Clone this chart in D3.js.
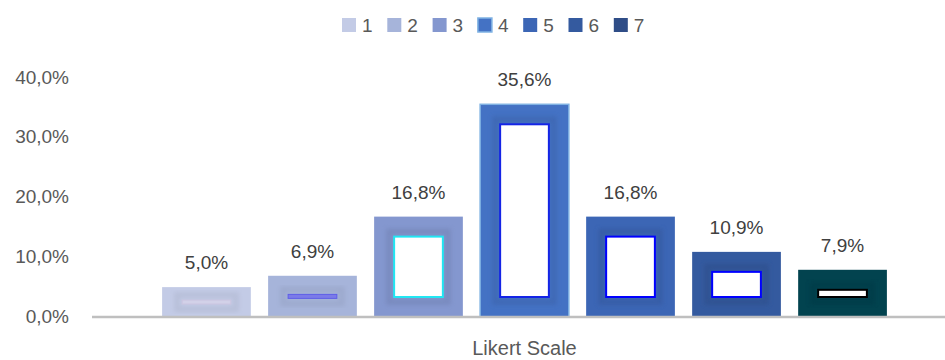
<!DOCTYPE html>
<html>
<head>
<meta charset="utf-8">
<script src="https://cdn.jsdelivr.net/npm/d3@7"></script>
<style>
  html, body { margin: 0; padding: 0; background: #ffffff; }
  svg { display: block; font-family: "Liberation Sans", Arial, sans-serif; }
</style>
</head>
<body>
<svg id="chart" width="945" height="360"></svg>
<script>
// Response shares per Likert point (percent)
const categories = ["Likert Scale"];
const series = ["1", "2", "3", "4", "5", "6", "7"];
const values = [5.0, 6.9, 16.8, 35.6, 16.8, 10.9, 7.9];
const yTicks = [0, 10, 20, 30, 40];

// Fill of each bar, legend swatch colours and the inner frame stroke
const barColors = ["#c3cbe6", "#a6b4da", "#8497cf", "#4472c4", "#3c66b5", "#345a9f", "#02434f"];
const legendColors = ["#c3cbe6", "#a6b4da", "#8497cf", "#4472c4", "#3c66b5", "#345a9f", "#2f4d87"];
const innerStroke = ["#cfc3de", "#5e5ee8", "#22e6f2", "#1424e6", "#0000ff", "#0000ff", "#000000"];

const fmt = v => d3.format(".1f")(v).replace(".", ",") + "%";

const svg = d3.select("#chart");
const plot = { left: 92, right: 957, top: 78, bottom: 317 };

const y = d3.scaleLinear().domain([0, 40]).range([plot.bottom, plot.top]);
const x0 = d3.scaleBand().domain(categories).range([plot.left, plot.right])
  .paddingInner(0.0765).paddingOuter(0.0765);
const x1 = d3.scaleBand().domain(series).range([0, x0.bandwidth()])
  .paddingInner(0.163).paddingOuter(0.0815);

const defs = svg.append("defs");
defs.append("filter").attr("id", "soft").attr("x", "-30%").attr("y", "-30%")
  .attr("width", "160%").attr("height", "160%")
  .append("feGaussianBlur").attr("stdDeviation", 2.2);

// Y axis labels (no gridlines)
const yAxis = d3.axisLeft(y).tickValues(yTicks).tickSize(0).tickPadding(0)
  .tickFormat(d => fmt(d));
svg.append("g").attr("transform", "translate(69,-1)").call(yAxis)
  .call(g => g.select(".domain").remove())
  .selectAll("text")
  .attr("font-size", 19).attr("fill", "#595959")
  .attr("font-family", "Liberation Sans, Arial, sans-serif");

// Bars
const inset = 20;
const innerH = d => Math.max(y(0) - y(d.v) - 2 * inset, 4);
const innerY = d => (y(d.v) + y(0)) / 2 - innerH(d) / 2;

const bars = svg.append("g").selectAll("g.bar")
  .data(series.map((s, i) => ({ s, v: values[i], i })))
  .join("g").attr("class", "bar")
  .attr("transform", d => `translate(${x0(categories[0]) + x1(d.s)},0)`);

bars.append("rect")
  .attr("x", 0).attr("width", x1.bandwidth())
  .attr("y", d => y(d.v)).attr("height", d => y(0) - y(d.v))
  .attr("fill", d => barColors[d.i])
  .attr("stroke", d => d.i === 3 ? "#7fb2e3" : "none")
  .attr("stroke-width", 1.5);

// Darker soft halo around the inner frame
bars.append("rect")
  .attr("filter", "url(#soft)")
  .attr("x", inset - 5).attr("width", x1.bandwidth() - 2 * (inset - 5))
  .attr("y", d => innerY(d) - 5)
  .attr("height", d => innerH(d) + 10)
  .attr("fill", "none")
  .attr("stroke", d => d3.color(barColors[d.i]).darker(0.35))
  .attr("stroke-width", 6)
  .attr("opacity", d => d.i < 2 ? 0.45 : 0.65);

// Inner white frame
bars.append("rect")
  .attr("x", inset).attr("width", x1.bandwidth() - 2 * inset)
  .attr("y", innerY)
  .attr("height", innerH)
  .attr("fill", d => d.i < 2 ? (d.i === 0 ? "#d9d4ea" : "#7b7be8") : "#ffffff")
  .attr("stroke", d => innerStroke[d.i])
  .attr("stroke-width", d => d.i < 2 ? 1 : 2)
  .attr("opacity", d => d.i === 0 ? 0.7 : 1);

// Value labels
bars.append("text")
  .attr("x", x1.bandwidth() / 2)
  .attr("y", d => y(d.v) - 18)
  .attr("text-anchor", "middle")
  .attr("font-size", 19).attr("fill", "#404040")
  .text(d => fmt(d.v));

// Category axis line and title
svg.append("line")
  .attr("x1", plot.left).attr("x2", 945)
  .attr("y1", y(0)).attr("y2", y(0))
  .attr("stroke", "#bfbfbf").attr("stroke-width", 2.5);

svg.append("text")
  .attr("x", x0(categories[0]) + x0.bandwidth() / 2)
  .attr("y", 355)
  .attr("text-anchor", "middle")
  .attr("font-size", 20).attr("fill", "#595959")
  .text(categories[0]);

// Legend
const legendStep = 45.3;
const legend = svg.append("g").attr("transform", "translate(342,18)")
  .selectAll("g").data(series).join("g")
  .attr("transform", (d, i) => `translate(${i * legendStep},0)`);
legend.append("rect")
  .attr("width", 14).attr("height", 14)
  .attr("fill", (d, i) => legendColors[i])
  .attr("stroke", (d, i) => i === 3 ? "#7fb2e3" : "none")
  .attr("stroke-width", 1.5);
legend.append("text")
  .attr("x", 20).attr("y", 13.5)
  .attr("font-size", 19).attr("fill", "#595959")
  .text(d => d);
</script>
</body>
</html>
